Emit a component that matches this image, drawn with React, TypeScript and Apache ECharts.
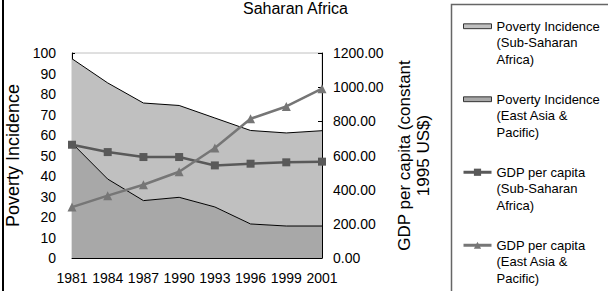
import React, { useEffect, useRef } from "react";
import * as echarts from "echarts";

const years = ["1981", "1984", "1987", "1990", "1993", "1996", "1999", "2001"];
// Poverty incidence (%), stacked: East Asia & Pacific at the bottom, Sub-Saharan Africa on top
const povertyEastAsia = [56, 38.5, 28, 29.6, 24.9, 16.6, 15.6, 15.6];
const povertySubSaharan = [41.2, 46.9, 47.6, 44.8, 43.4, 45.6, 45.4, 46.5];
// GDP per capita (constant 1995 US$)
const gdpSubSaharan = [663, 620, 591, 591, 542, 552, 560, 564];
const gdpEastAsia = [298, 365, 429, 505, 644, 815, 887, 991];

const leftTicks = { min: 0, max: 100, interval: 10 };
const rightTicks = { min: 0, max: 1200, interval: 200 };

const FONT = "'Liberation Sans', Arial, sans-serif";

export default function App() {
  const ref = useRef<HTMLDivElement>(null);
  useEffect(() => {
    if (!ref.current) return;
    const chart = echarts.init(ref.current, undefined, { renderer: "svg" });
    const names = {
      pSSA: "Poverty Incidence\n(Sub-Saharan\nAfrica)",
      pEAP: "Poverty Incidence\n(East Asia &\nPacific)",
      gSSA: "GDP per capita\n(Sub-Saharan\nAfrica)",
      gEAP: "GDP per capita\n(East Asia &\nPacific)",
    };
    const rectIcon = "path://M0,0H29V5H0Z";
    chart.setOption({
      animation: false,
      backgroundColor: "#fff",
      textStyle: { fontFamily: FONT },
      title: {
        text: "Saharan Africa",
        left: 243,
        top: 0,
        padding: 0,
        textStyle: { fontSize: 16, fontWeight: "normal", color: "#000", fontFamily: FONT },
      },
      graphic: [
        { type: "rect", shape: { x: 2, y: 0, width: 2, height: 291 }, style: { fill: "#000" } },
        {
          type: "rect",
          shape: { x: 451.5, y: 4.5, width: 200, height: 300 },
          style: { fill: "none", stroke: "#666", lineWidth: 1.5 },
        },
      ],
      legend: {
        orient: "vertical",
        left: 462,
        top: -15,
        padding: 0,
        itemWidth: 28,
        itemHeight: 9,
        itemGap: -9.5,
        selectedMode: false,
        formatter: (name: string) => "\n\n" + name,
        textStyle: {
          fontSize: 13,
          color: "#000",
          fontFamily: FONT,
          lineHeight: 16.5,
        },
        data: [
          { name: names.pSSA, icon: rectIcon, itemStyle: { color: "#c0c0c0", borderColor: "#333", borderWidth: 1 } },
          { name: names.pEAP, icon: rectIcon, itemStyle: { color: "#a8a8a8", borderColor: "#333", borderWidth: 1 } },
          { name: names.gSSA, lineStyle: { width: 3 } },
          { name: names.gEAP, lineStyle: { width: 3 } },
        ],
      },
      grid: {
        left: 72,
        top: 53,
        width: 250,
        height: 205,
        show: true,
        borderColor: "#c0c0c0",
        borderWidth: 1,
        backgroundColor: "#fff",
      },
      xAxis: {
        type: "category",
        data: years,
        boundaryGap: false,
        axisLine: { lineStyle: { color: "#000", width: 1 } },
        axisTick: { inside: true, length: 3, lineStyle: { color: "#000" } },
        axisLabel: { fontSize: 14, color: "#000", margin: 13, fontFamily: FONT, interval: 0, hideOverlap: false },
        splitLine: { show: false },
      },
      yAxis: [
        {
          type: "value",
          ...leftTicks,
          position: "left",
          name: "Poverty Incidence",
          nameLocation: "middle",
          nameRotate: 90,
          nameGap: 50,
          nameTextStyle: { fontSize: 18, color: "#000", fontFamily: FONT },
          axisLine: { show: true, lineStyle: { color: "#000", width: 1 } },
          axisTick: { show: true, inside: true, length: 3, lineStyle: { color: "#000" } },
          axisLabel: { fontSize: 14, color: "#000", margin: 16, fontFamily: FONT },
          splitLine: { show: false },
        },
        {
          type: "value",
          ...rightTicks,
          position: "right",
          name: "GDP per capita (constant\n1995 US$)",
          nameLocation: "middle",
          nameRotate: 90,
          nameGap: 73,
          nameTextStyle: { fontSize: 17, color: "#000", fontFamily: FONT, lineHeight: 19 },
          axisLine: { show: true, lineStyle: { color: "#000", width: 1 } },
          axisTick: { show: true, inside: true, length: 4, lineStyle: { color: "#000" } },
          axisLabel: {
            fontSize: 14,
            color: "#000",
            margin: 11,
            fontFamily: FONT,
            formatter: (v: number) => v.toFixed(2),
          },
          splitLine: { show: false },
        },
      ],
      series: [
        {
          name: names.pEAP,
          type: "line",
          stack: "poverty",
          data: povertyEastAsia,
          symbol: "none",
          color: "#a8a8a8",
          lineStyle: { color: "#000", width: 1 },
          areaStyle: { color: "#a8a8a8", opacity: 1 },
          z: 1,
        },
        {
          name: names.pSSA,
          type: "line",
          stack: "poverty",
          data: povertySubSaharan,
          symbol: "none",
          color: "#c0c0c0",
          lineStyle: { color: "#000", width: 1 },
          areaStyle: { color: "#c0c0c0", opacity: 1 },
          z: 1,
        },
        {
          name: names.gSSA,
          type: "line",
          yAxisIndex: 1,
          data: gdpSubSaharan,
          symbol: "rect",
          symbolSize: 8,
          color: "#595959",
          itemStyle: { color: "#595959" },
          lineStyle: { color: "#595959", width: 2.5 },
          z: 3,
        },
        {
          name: names.gEAP,
          type: "line",
          yAxisIndex: 1,
          data: gdpEastAsia,
          symbol: "triangle",
          symbolSize: 9,
          color: "#767676",
          itemStyle: { color: "#767676" },
          lineStyle: { color: "#767676", width: 2.5 },
          z: 4,
        },
      ],
    });
    return () => chart.dispose();
  }, []);
  return (
    <div
      ref={ref}
      style={{ position: "fixed", left: 0, top: 0, width: 608, height: 291, background: "#fff" }}
    />
  );
}
